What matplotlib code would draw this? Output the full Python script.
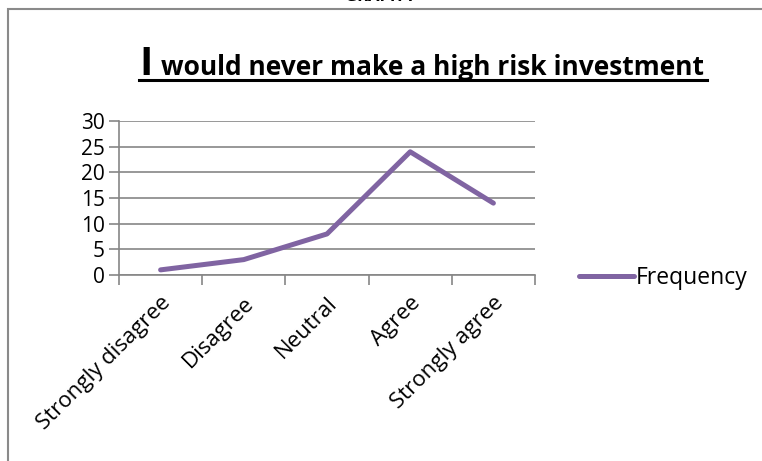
import matplotlib
matplotlib.use('Agg')
import matplotlib.pyplot as plt
from matplotlib.patches import Rectangle
from matplotlib.lines import Line2D

# Dane
kategorie = ['Strongly disagree', 'Disagree', 'Neutral', 'Agree', 'Strongly agree']
czestosc = [1, 3, 8, 24, 14]
y_ticks = [0, 5, 10, 15, 20, 25, 30]

plt.rcParams['font.family'] = ['Open Sans', 'DejaVu Sans']

W, H = 762, 461
fig = plt.figure(figsize=(W / 100, H / 100), dpi=100)

# Ramka wykresu (bez prawej krawędzi, wychodzi poza obraz)
fig.patches.append(Rectangle((8 / W, -0.05), 1.2, 1 - 9 / H + 0.05, transform=fig.transFigure,
                             fill=False, edgecolor='#8a8a8a', linewidth=1.5))
fig.text(0.5, 1 - 5 / H, 'GRAPH 7', ha='center', va='bottom', fontsize=12, fontweight='bold')

ax = fig.add_axes([119 / W, 1 - 275 / H, (535 - 119) / W, (275 - 121) / H])
x = [i + 0.5 for i in range(len(kategorie))]
ax.plot(x, czestosc, color='#8064A2', linewidth=3.6, solid_capstyle='round',
        solid_joinstyle='round', label='Frequency')

ax.set_xlim(0, len(kategorie))
ax.set_ylim(0, 30)
ax.set_yticks(y_ticks)
ax.set_xticks(range(len(kategorie) + 1))
ax.set_xticklabels([])
ax.grid(axis='y', color='#868686', linewidth=1.2)
ax.set_axisbelow(True)
for s in ['top', 'right']:
    ax.spines[s].set_visible(False)
for s in ['left', 'bottom']:
    ax.spines[s].set_color('#868686')
    ax.spines[s].set_linewidth(1.2)
ax.tick_params(axis='both', colors='#868686', width=1.2, length=7, labelcolor='black', labelsize=15)
ax.tick_params(axis='y', pad=3)

# Etykiety kategorii obrócone
for xi, k in zip(x, kategorie):
    ax.annotate(k, xy=(xi, 0), xycoords=('data', 'axes fraction'), xytext=(7, -25),
                textcoords='offset pixels', rotation=45, rotation_mode='anchor',
                ha='right', va='center', fontsize=16)

# Tytuł z podkreśleniem
fig.text(139 / W, 1 - 75 / H, 'I', fontsize=29, fontweight='bold', ha='left', va='baseline')
fig.text(161 / W, 1 - 75 / H, 'would never make a high risk investment', fontsize=19,
         fontweight='bold', ha='left', va='baseline')
fig.lines.append(Line2D([139 / W, 707 / W], [1 - 80 / H, 1 - 80 / H], transform=fig.transFigure,
                        color='black', linewidth=2.2))

# Legenda
leg = ax.legend(loc='center left', bbox_to_anchor=(1.055, -0.02), frameon=False, fontsize=16.5,
                handlelength=2.4, handletextpad=0.1)

plt.savefig('out.png', dpi=100)
